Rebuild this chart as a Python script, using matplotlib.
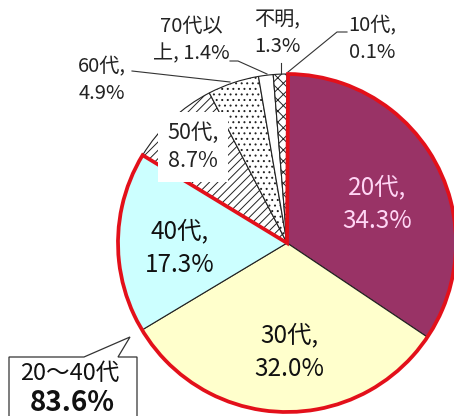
import matplotlib
matplotlib.use('Agg')
import matplotlib.pyplot as plt
from matplotlib.patches import Wedge, Polygon

# ---- data ----
categories = ['10代', '20代', '30代', '40代', '50代', '60代', '70代以上', '不明']
values = [0.1, 34.3, 32.0, 17.3, 8.7, 4.9, 1.4, 1.3]
group_members = ['20代', '30代', '40代']
group_label = '20〜40代'

# ---- styles ----
colors = ['#FFFFFF', '#993366', '#FFFFCC', '#CCFFFF', '#FFFFFF', '#FFFFFF', '#FFFFFF', '#FFFFFF']
hatches = ['xxx', '', '', '', '////', '...', '', 'xxx']
FONT = ['Noto Sans CJK JP', 'DejaVu Sans']
plt.rcParams['font.family'] = FONT
plt.rcParams['hatch.linewidth'] = 0.7

W, H = 454, 416
fig = plt.figure(figsize=(W / 100, H / 100), dpi=100)
ax = fig.add_axes([0, 0, 1, 1])


def Y(y):
    return H - y


cx, cy, R = 287, Y(243), 169
wedges, _ = ax.pie(values, startangle=90, counterclock=False, colors=colors,
                   hatch=hatches, center=(cx, cy), radius=R,
                   wedgeprops=dict(edgecolor='#222222', linewidth=0.8))
ax.set_xlim(0, W)
ax.set_ylim(0, H)
ax.set_aspect('equal')
ax.axis('off')

# red outline around group
idx = [categories.index(c) for c in group_members]
t1 = min(wedges[i].theta1 for i in idx)
t2 = max(wedges[i].theta2 for i in idx)
ax.add_patch(Wedge((cx, cy), R, t1, t2, fill=False, edgecolor='#E3101A',
                   linewidth=2.7, zorder=5))


def label_text(cat, v):
    if len(cat) > 3:
        return f"{cat[:-1]}\n{cat[-1:]}, {v:.1f}%"
    return f"{cat},\n{v:.1f}%"


# label layout (image pixel coords): x, y, size, color, bbox
layout = {
    '10代': (372, 39, 14.5, '#222222', False),
    '20代': (377, 204, 17.5, '#FFD6F5', False),
    '30代': (289, 352, 17.5, '#111111', False),
    '40代': (180, 248, 17.5, '#111111', False),
    '50代': (193, 147, 15.5, '#222222', True),
    '60代': (102, 80, 14.5, '#222222', False),
    '70代以上': (191, 40, 14.5, '#222222', False),
    '不明': (277, 33, 14.5, '#222222', False),
}
for cat, v in zip(categories, values):
    x, y, fs, col, box = layout[cat]
    kw = {}
    if box:
        kw['bbox'] = dict(facecolor='white', edgecolor='none', pad=7)
    ax.text(x, Y(y), label_text(cat, v), ha='center', va='center',
            fontsize=fs, color=col, linespacing=1.35, zorder=6, **kw)

# leader lines (image coords)
leaders = [
    [(347, 32), (337, 32), (288, 72)],
    [(281, 63), (281, 74)],
    [(230, 61), (238, 61), (267, 74)],
    [(132, 71), (230, 82)],
]
for pts in leaders:
    ax.plot([p[0] for p in pts], [Y(p[1]) for p in pts], color='#333333',
            lw=0.8, zorder=4)

# callout box
poly = [(9, 357), (84, 357), (130, 337), (118, 357), (137, 357), (137, 440), (9, 440)]
ax.add_patch(Polygon([(px, Y(py)) for px, py in poly], closed=True,
                     facecolor='white', edgecolor='#333333', lw=0.9, zorder=7,
                     clip_on=False))
group_total = sum(values[i] for i in idx)
ax.text(70, Y(373), group_label, ha='center', va='center', fontsize=17,
        color='#111111', zorder=8)
ax.text(72, Y(403), f"{group_total:.1f}%", ha='center', va='center',
        fontsize=20, fontweight='bold', color='#111111', zorder=8)

fig.savefig('out.png', dpi=100)
